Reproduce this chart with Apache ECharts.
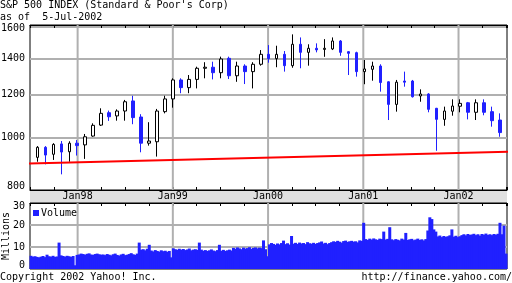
<!DOCTYPE html>
<html><head><meta charset="utf-8">
<script src="https://cdn.jsdelivr.net/npm/echarts@6/dist/echarts.min.js"></script>
<style>html,body{margin:0;padding:0;background:#fff}#c{width:512px;height:283px}</style>
</head><body><div id="c"></div>
<script>
// ---- data ----
// monthly candles, Jul-1997 .. May-2002 (index 0..58)
const candleOpen  = [919,959,931,973,941,976,969,1006,1054,1111,1096,1119,1168,1091,976,982,1116,1178,1277,1236,1280,1342,1348,1317,1400,1300,1355,1323,1365,1424,1398,1424,1357,1486,1436,1461,1454,1457,1507,1440,1434,1323,1336,1355,1267,1151,1271,1271,1193,1203,1132,1080,1118,1142,1159,1113,1159,1116,1077];
const candleClose = [959,928,971,940,976,966,1003,1053,1108,1092,1119,1164,1088,976,985,1119,1178,1277,1236,1280,1342,1348,1317,1396,1300,1355,1323,1365,1424,1398,1424,1357,1486,1436,1461,1451,1461,1507,1436,1430,1323,1338,1355,1263,1151,1265,1265,1189,1203,1127,1080,1119,1143,1156,1113,1159,1113,1074,1021];
const candleLow   = [902,892,909,855,902,926,913,1003,1050,1073,1074,1074,1058,939,966,922,1108,1135,1207,1207,1232,1286,1280,1286,1282,1267,1255,1232,1357,1374,1348,1323,1345,1342,1357,1436,1409,1450,1415,1304,1295,1254,1273,1215,1077,1116,1241,1185,1164,1113,945,1051,1097,1113,1080,1077,1099,1047,1003];
const candleHigh  = [964,964,976,985,984,989,1015,1062,1132,1121,1127,1173,1194,1104,1067,1129,1194,1286,1286,1304,1351,1377,1380,1410,1410,1380,1365,1377,1450,1481,1477,1444,1550,1530,1486,1492,1519,1530,1513,1444,1440,1390,1380,1365,1270,1277,1323,1277,1227,1207,1134,1140,1176,1176,1163,1176,1176,1140,1108];

// red trend line end points (x in months since Jan-1997)
const trendMonths = [3.98, 66.74];
const trendValues = [894, 941.7];

// volume (millions), ~weekly buckets spanning the 5-year window
const volume = [6.0,5.6,5.8,5.5,5.3,5.6,5.9,5.4,6.5,5.8,
 5.6,6.0,5.5,5.7,12.0,6.2,5.9,5.6,6.0,5.8,
 5.5,5.9,1.7,6.4,6.6,7.0,6.8,6.5,6.9,7.1,
 6.6,6.4,6.8,7.0,6.7,6.5,6.6,6.3,6.8,6.5,
 6.2,6.7,7.0,6.4,6.1,6.6,6.9,6.3,6.5,6.8,
 7.2,6.7,6.4,7.0,12.0,8.8,9.0,8.5,9.2,11.0,
 8.4,8.0,8.6,8.2,7.9,8.5,8.1,8.3,7.8,8.2,
 5.3,9.4,9.0,8.7,9.2,8.8,9.1,8.6,8.9,9.3,
 8.5,8.8,9.0,8.7,12.0,8.8,8.3,8.6,8.2,8.5,
 8.9,8.4,8.1,8.6,11.0,8.3,8.7,8.2,8.5,8.8,
 8.4,9.6,9.2,9.8,9.4,9.0,9.7,9.3,9.5,9.9,
 9.2,9.6,9.8,9.4,9.7,9.5,13.0,9.0,5.8,11.2,
 11.8,11.4,11.0,11.6,11.2,11.8,12.9,11.3,11.7,11.1,
 15.0,11.5,11.9,11.4,12.0,11.6,11.8,11.3,12.2,11.7,
 11.5,11.9,11.4,11.8,12.1,12.5,11.6,11.9,11.3,11.8,
 12.2,12.6,12.3,12.8,12.4,12.0,12.7,12.9,12.3,12.6,
 12.8,12.4,12.6,12.1,13.0,12.8,21.0,13.6,13.2,13.8,
 13.4,13.9,13.5,13.2,13.8,13.6,17.0,13.4,13.7,19.0,
 13.5,13.1,13.6,13.3,13.0,13.8,13.4,16.4,13.2,13.5,
 13.7,13.1,13.4,13.8,13.2,13.5,13.0,13.6,17.5,23.5,
 22.7,18.0,17.0,14.8,15.2,14.5,15.0,14.6,14.9,15.3,
 18.0,14.7,15.1,14.5,14.9,15.4,15.8,15.3,15.9,15.5,
 15.7,16.0,15.4,15.8,15.2,15.9,15.6,16.1,15.5,15.8,
 15.4,15.9,15.6,16.0,21.0,15.8,19.7,7.0];

// axis ticks / labels (x unit: months since Jan-1997)
const priceLabels = [800, 1000, 1200, 1400, 1600];
const priceGridTicks = [1000, 1200, 1400, 1600];
const priceMin = 799.9, priceMax = 1613;
const volLabels = [0, 10, 20, 30];
const volGridTicks = [10, 20];
const volMin = 0, volMax = 30;
const yearTickMonths = [12, 24, 36, 48, 60];
const yearTickLabels = ['Jan98', 'Jan99', 'Jan00', 'Jan01', 'Jan02'];
const quarterInterval = 3;
const monthMin = 6, monthMax = 66.11;

// ---- styling ----
const FONT = 'DejaVu Sans Mono';
const BLUE = '#2020ff';
const GRID = '#b0b0b0';
const txt = {fontFamily: FONT, fontSize: 10, color: '#000', fontWeight: 'normal'};

const candleData = candleClose.map((c, i) => [i, candleOpen[i], c, candleLow[i], candleHigh[i]]);
const trendData = trendMonths.map((m, i) => [m, trendValues[i]]);
const volStep = (monthMax - monthMin) / volume.length;
const volumeData = volume.map((v, k) => [monthMin + (k + 0.5) * volStep, v]);

// vertical year grid lines, drawn through the axes' own scales
function yearGridSeries(xAxisIndex, yAxisIndex, y0, y1) {
  return yearTickMonths.map(m => ({
    type: 'line', xAxisIndex, yAxisIndex, data: [[m, y0], [m, y1]], z: 1, silent: true,
    symbol: 'none', animation: false, lineStyle: {color: GRID, width: 2}, emphasis: {disabled: true}
  }));
}

function yearLabel(v) {
  const k = yearTickMonths.indexOf(Math.round(v));
  return k >= 0 ? yearTickLabels[k] : '';
}
function monthAxis(grid, pos) {
  return {type: 'value', gridIndex: grid, position: pos, min: monthMin, max: monthMax,
    axisLine: {show: false}, axisTick: {show: false}, axisLabel: {show: false},
    splitLine: {show: false}, splitArea: {show: false}, axisPointer: {show: false}};
}
function quarterAxis(grid, pos) {
  return Object.assign(monthAxis(grid, pos), {
    interval: quarterInterval,
    axisLine: {show: true, lineStyle: {color: '#000', width: 1}},
    axisTick: {show: true, inside: true, length: 3, lineStyle: {color: '#000', width: 1}},
    axisLabel: {show: false}
  });
}

const option = {
  animation: false,
  backgroundColor: '#fff',
  textStyle: txt,
  title: [
    {text: "S&P 500 INDEX (Standard & Poor's Corp)\nas of  5-Jul-2002", left: 0, top: -1, padding: 0,
     textStyle: Object.assign({}, txt, {lineHeight: 12})},
    {text: 'Copyright 2002 Yahoo! Inc.', left: 0, top: 271, padding: 0, textStyle: Object.assign({}, txt, {lineHeight: 12})},
    {text: 'http://finance.yahoo.com/', right: 0, top: 271, padding: 0, textStyle: Object.assign({}, txt, {lineHeight: 12})}
  ],
  legend: {data: ['Volume'], left: 33, top: 208, padding: 0, itemWidth: 6, itemHeight: 6, icon: 'rect',
    textStyle: Object.assign({}, txt, {padding: [0, 0, 0, -3]})},
  graphic: [{type: 'rect', silent: true, z: -10, shape: {x: 30, y: 190, width: 477, height: 13}, style: {fill: '#e0e0e0'}}],
  grid: [
    {left: 30, top: 25, width: 477, height: 165, show: true, backgroundColor: 'transparent', borderColor: '#000', borderWidth: 1, containLabel: false, outerBoundsMode: 'none'},
    {left: 30, top: 203, width: 477, height: 66, show: true, backgroundColor: 'transparent', borderColor: '#000', borderWidth: 1, containLabel: false, outerBoundsMode: 'none'}
  ],
  xAxis: [
    // 0: main, Jan labels in the grey band (carries trend line + year lines)
    Object.assign(monthAxis(0, 'bottom'), {
      axisLabel: {show: true, customValues: yearTickMonths, formatter: yearLabel,
        margin: 0, lineHeight: 12, fontFamily: FONT, fontSize: 10, color: '#000', hideOverlap: false}
    }),
    quarterAxis(0, 'bottom'),        // 1
    quarterAxis(0, 'top'),           // 2
    {type: 'value', gridIndex: 0, min: -0.92, max: 58.86, show: false},   // 3: candle index axis
    monthAxis(1, 'bottom'),          // 4: volume bars + year lines
    quarterAxis(1, 'top')            // 5
  ],
  yAxis: [
    {type: 'log', logBase: 10, gridIndex: 0, min: priceMin, max: priceMax,
      axisLine: {show: false}, splitArea: {show: false},
      axisTick: {show: false, customValues: priceGridTicks},
      axisLabel: {customValues: priceLabels, margin: 5, fontFamily: FONT, fontSize: 10, color: '#000',
        formatter: v => { const r = Math.round(v); return r === 800 ? '{lo|800}' : r === 1600 ? '{hi|1600}' : String(r); },
        rich: {lo: {fontFamily: FONT, fontSize: 10, color: '#000', padding: [0, 0, 8, 0]},
               hi: {fontFamily: FONT, fontSize: 10, color: '#000', padding: [4, 0, 0, 0]}}},
      splitLine: {show: true, lineStyle: {color: GRID, width: 2}}},
    {type: 'value', gridIndex: 1, min: volMin, max: volMax,
      name: 'Millions', nameLocation: 'middle', nameRotate: 90, nameGap: 19, nameMoveOverlap: false,
      nameTextStyle: {fontFamily: FONT, fontSize: 10, color: '#000'},
      axisLine: {show: false}, splitArea: {show: false},
      axisTick: {show: false, customValues: volGridTicks},
      axisLabel: {customValues: volLabels, margin: 5, fontFamily: FONT, fontSize: 10, color: '#000',
        formatter: v => v === 0 ? '{lo|0}' : v === 30 ? '{hi|30}' : String(v),
        rich: {lo: {fontFamily: FONT, fontSize: 10, color: '#000', padding: [0, 0, 7, 0]},
               hi: {fontFamily: FONT, fontSize: 10, color: '#000', padding: [7, 0, 0, 0]}}},
      splitLine: {show: true, lineStyle: {color: GRID, width: 2}}}
  ],
  series: [
    {type: 'candlestick', xAxisIndex: 3, yAxisIndex: 0, data: candleData, z: 3,
      encode: {x: 0, y: [1, 2, 3, 4]}, barWidth: 3,
      itemStyle: {color: '#ffffff', color0: BLUE, borderColor: '#000000', borderColor0: BLUE, borderWidth: 1}},
    {type: 'line', xAxisIndex: 0, yAxisIndex: 0, data: trendData, clip: false, symbol: 'none', z: 4,
      lineStyle: {color: '#ff0000', width: 2}},
    {name: 'Volume', type: 'bar', xAxisIndex: 4, yAxisIndex: 1, data: volumeData, barWidth: 3, z: 3,
      itemStyle: {color: BLUE}}
  ].concat(yearGridSeries(0, 0, priceMin, priceMax), yearGridSeries(4, 1, volMin, volMax))
};
const chart = echarts.init(document.getElementById('c'), null, {renderer: 'canvas', width: 512, height: 283});
chart.setOption(option);
</script></body></html>
